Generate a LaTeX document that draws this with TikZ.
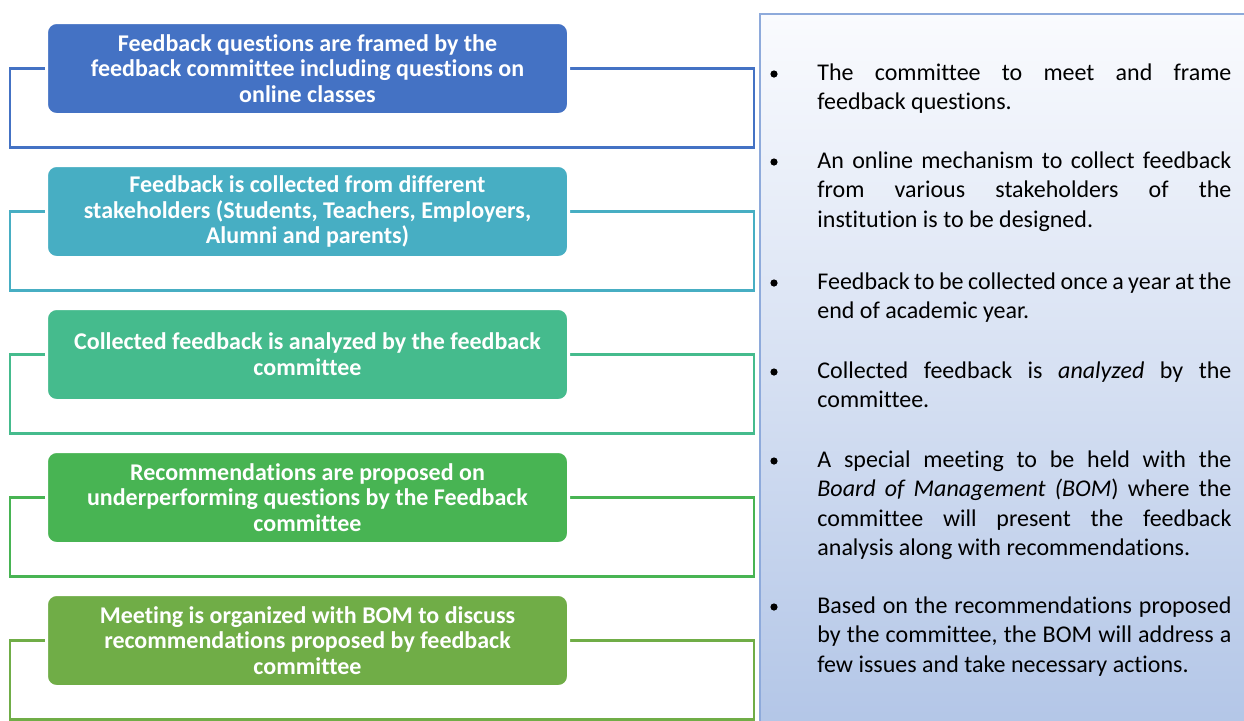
\documentclass[tikz,border=0pt]{standalone}
\usepackage{fontspec}
\setmainfont{Carlito}[Ligatures=NoCommon]
\usepackage{xcolor}
\usetikzlibrary{backgrounds}
\definecolor{stageA}{HTML}{4472C4}
\definecolor{stageB}{HTML}{47AEC3}
\definecolor{stageC}{HTML}{45BB8D}
\definecolor{stageD}{HTML}{48B453}
\definecolor{stageE}{HTML}{70AD47}
\definecolor{panelTop}{HTML}{FAFBFE}
\definecolor{panelMid}{HTML}{E1E8F5}
\definecolor{panelBot}{HTML}{B3C6E7}
\definecolor{panelLine}{HTML}{8EAADB}

\begin{document}
\begin{tikzpicture}[x=0.5pt,y=-0.5pt,
    stage/.style={draw=white,line width=1.5pt,rounded corners=5pt,fill=#1,
      text=white,font=\bfseries\fontsize{12}{12.9}\selectfont,align=center,
      minimum width=261pt,minimum height=46pt,inner sep=0pt},
    frameline/.style={draw=#1,line width=1.2pt},
    point/.style={circle,fill=black,inner sep=0pt,minimum size=3.6pt},
    remark/.style={anchor=base west,text width=207pt,align=justify,inner sep=0pt,
      font=\fontsize{12}{14.75}\selectfont}]
  \useasboundingbox (0,0) rectangle (1244,720);

  % panel on the right
  \shade[top color=panelTop,middle color=panelMid,bottom color=panelBot]
    (760,14) rectangle (1250,726);
  \draw[panelLine,line width=1pt] (760,726) -- (760,14) -- (1250,14);

  % the five stages
  \node[stage=stageA] (s1) at (307.5,68.5)
    {Feedback questions are framed by the\\feedback committee including questions on\\online classes};
  \node[stage=stageB] (s2) at (307.5,211.5)
    {Feedback is collected from different\\stakeholders (Students, Teachers, Employers,\\Alumni and parents)};
  \node[stage=stageC] (s3) at (307.5,354.5)
    {Collected feedback is analyzed by the feedback\\committee};
  \node[stage=stageD] (s4) at (307.5,497.5)
    {Recommendations are proposed on\\underperforming questions by the Feedback\\committee};
  \node[stage=stageE] (s5) at (307.5,640.5)
    {Meeting is organized with BOM to discuss\\recommendations proposed by feedback\\committee};

  % open frames behind each stage
  \begin{scope}[on background layer]
    \foreach \i/\c in {1/stageA,2/stageB,3/stageC,4/stageD,5/stageE}
      \draw[frameline=\c] (s\i.west) -- ++(-35,0) |- ++(744,79) |- (s\i.east);
  \end{scope}

  % notes
  \node[point] (p1) at (774,74) {};
  \node[remark] (r1) at (817,80)
    {The committee to meet and frame\linebreak feedback questions.};
  \node[point] (p2) at (774,162) {};
  \node[remark] (r2) at (817,168)
    {An online mechanism to collect feedback\linebreak from various stakeholders of the\linebreak institution is to be designed.};
  \node[point] (p3) at (774,283) {};
  \node[remark] (r3) at (817,289)
    {Feedback to be collected once a year at the\linebreak end of academic year.};
  \node[point] (p4) at (774,372) {};
  \node[remark] (r4) at (817,378)
    {Collected feedback is \textit{analyzed} by the\linebreak committee.};
  \node[point] (p5) at (774,461) {};
  \node[remark] (r5) at (817,467)
    {A special meeting to be held with the\linebreak \textit{Board of Management (BOM})\ where the\linebreak committee will present the feedback\linebreak analysis along with recommendations.};
  \node[point] (p6) at (774,607) {};
  \node[remark] (r6) at (817,613)
    {Based on the recommendations proposed\linebreak by the committee, the BOM will address a\linebreak few issues and take necessary actions.};
\end{tikzpicture}
\end{document}
